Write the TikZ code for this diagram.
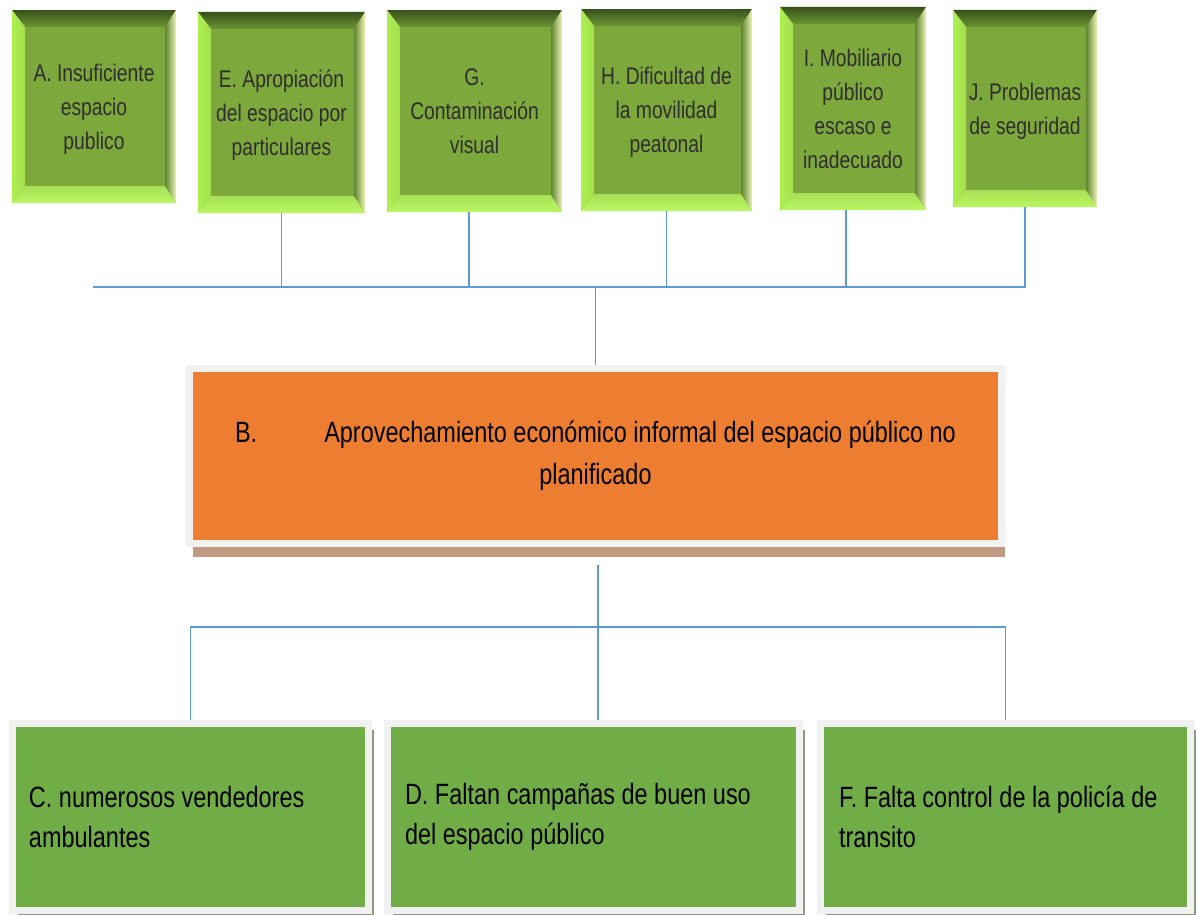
\documentclass[tikz,border=0pt]{standalone}
\usepackage{fontspec}
\usepackage{tikz}
\usetikzlibrary{shadows}
\newfontfamily\narrowfont[FakeStretch=0.8]{Liberation Sans}
\newcommand{\causafont}{\narrowfont\fontsize{13.7}{19.3}\selectfont}
\newcommand{\efectofont}{\narrowfont\fontsize{16.7}{22.7}\selectfont}
\newcommand{\centralfont}{\narrowfont\fontsize{16.7}{23.8}\selectfont}

\definecolor{faceGreen}{RGB}{125,168,60}
\definecolor{topDark}{RGB}{56,82,28}
\definecolor{topLight}{RGB}{108,150,52}
\definecolor{leftBright}{RGB}{174,240,82}
\definecolor{botLight}{RGB}{184,248,98}
\definecolor{rightDark}{RGB}{94,132,48}
\definecolor{rightPale}{RGB}{238,244,180}
\definecolor{efGreen}{RGB}{112,173,71}
\definecolor{probOrange}{RGB}{237,125,49}
\definecolor{frameGray}{RGB}{241,241,241}
\definecolor{shadeBrown}{RGB}{192,155,130}
\definecolor{shadeGray}{RGB}{140,156,134}
\definecolor{linkBlue}{RGB}{91,155,213}

\tikzset{
  bevel/.style={path picture={
    \coordinate (pnw) at (path picture bounding box.north west);
    \coordinate (pne) at (path picture bounding box.north east);
    \coordinate (psw) at (path picture bounding box.south west);
    \coordinate (pse) at (path picture bounding box.south east);
    \shade[top color=topDark, bottom color=topLight] (pnw) -- (pne) -- ([xshift=-0.22cm,yshift=-0.34cm]pne) -- ([xshift=0.26cm,yshift=-0.34cm]pnw) -- cycle;
    \shade[left color=leftBright, right color=leftBright!75!faceGreen] (pnw) -- ([xshift=0.26cm,yshift=-0.34cm]pnw) -- ([xshift=0.26cm,yshift=0.34cm]psw) -- (psw) -- cycle;
    \shade[top color=botLight!70!faceGreen, bottom color=botLight] (psw) -- ([xshift=0.26cm,yshift=0.34cm]psw) -- ([xshift=-0.22cm,yshift=0.34cm]pse) -- (pse) -- cycle;
    \shade[left color=rightDark, right color=rightPale] (pse) -- ([xshift=-0.22cm,yshift=0.34cm]pse) -- ([xshift=-0.22cm,yshift=-0.34cm]pne) -- (pne) -- cycle;
  }},
  causa/.style={fill=faceGreen, bevel, text=black!82, align=center, font=\causafont, inner sep=0pt,
    text depth=-0.1cm},
  efecto/.style={fill=efGreen, draw=frameGray, line width=0.14cm, align=left, font=\efectofont,
    inner sep=0pt, minimum height=3.74cm, execute at begin node={\spaceskip=0pt\xspaceskip=0pt\relax},
    drop shadow={shadow xshift=0.11cm, shadow yshift=-0.12cm, fill=shadeGray, opacity=1}},
  problema/.style={fill=probOrange, draw=frameGray, line width=0.14cm, align=center, font=\centralfont,
    inner sep=0pt, minimum width=16.24cm, minimum height=3.5cm,
    drop shadow={shadow xshift=0.06cm, shadow yshift=-0.27cm, fill=shadeBrown, opacity=1}},
  link/.style={draw=linkBlue, line width=1pt}
}

\begin{document}
\begin{tikzpicture}
    \useasboundingbox (0,0) rectangle (23.92,-18.3);
    % causas
    \node[causa, minimum width=3.28cm, minimum height=3.86cm] (A) at (1.88, -2.13) {A. Insuficiente\\espacio\\publico};
    \node[causa, minimum width=3.34cm, minimum height=4.02cm] (E) at (5.63, -2.25) {E. Apropiación\\del espacio por\\particulares};
    \node[causa, minimum width=3.5cm, minimum height=4.04cm] (G) at (9.49, -2.22) {G.\\Contaminación\\visual};
    \node[causa, minimum width=3.42cm, minimum height=4.04cm] (H) at (13.33, -2.20) {H. Dificultad de\\la movilidad\\peatonal};
    \node[causa, minimum width=2.92cm, minimum height=4.06cm] (I) at (17.06, -2.17) {I. Mobiliario\\público\\escaso e\\inadecuado};
    \node[causa, minimum width=2.88cm, minimum height=3.94cm] (J) at (20.5, -2.17) {J. Problemas\\de seguridad};
    % problema central
    \node[problema] (B) at (11.91, -9.12) {B.\hspace{1.34cm}Aprovechamiento económico informal del espacio público no\\planificado};
    % efectos
    \node[efecto, minimum width=7.12cm, text width=6.46cm] (C) at (3.81, -16.34) {C. numerosos vendedores\\ambulantes};
    \node[efecto, minimum width=8.24cm, text width=7.54cm] (D) at (11.87, -16.34) {D. Faltan campañas de buen uso\\del espacio público};
    \node[efecto, minimum width=7.40cm, text width=6.66cm] (F) at (20.11, -16.34) {F. Falta control de la policía de\\transito};
    \coordinate (bus) at (1.86, -5.74);
    \coordinate (bus2) at (3.81, -12.54);
    \draw[link] (bus) -- (J.south |- bus) -- (J.south);
    \draw[link] (E.south) -- (E.south |- bus);
    \draw[link] ([xshift=-0.11cm]G.south) -- ([xshift=-0.11cm]G.south |- bus);
    \draw[link] (H.south) -- (H.south |- bus);
    \draw[link] ([xshift=-0.14cm]I.south) -- ([xshift=-0.14cm]I.south |- bus);
    \draw[link] (B.north |- bus) -- (B.north);
    \draw[link, shorten <=0.35cm] ([xshift=0.05cm]B.south) -- ([xshift=0.05cm]B.south |- D.north);
    \draw[link] (C.north) -- (C.north |- bus2) -- (F.north |- bus2) -- (F.north);
\end{tikzpicture}
\end{document}
